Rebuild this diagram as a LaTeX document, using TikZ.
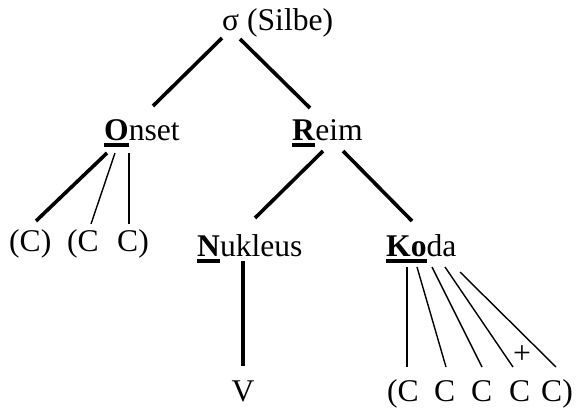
\documentclass[tikz,border=0pt]{standalone}
\usepackage{fontspec}
\setmainfont{Liberation Serif}
\usetikzlibrary{positioning}

% bold initial letter with a heavy underline
\newcommand{\ulbf}[1]{\setbox0=\hbox{\textbf{#1}}\rlap{\rule[-7pt]{\wd0}{4pt}}\box0}

\tikzset{
  lbl/.style={inner sep=0pt, anchor=base west, font=\fontsize{31.6pt}{36pt}\selectfont},
  thickline/.style={line width=3.6pt},
  thinline/.style={line width=1.4pt}
}

\begin{document}
\begin{tikzpicture}[x=1pt, y=-1pt]
\useasboundingbox (0,0) rectangle (581,410);

% Syllable
\node[lbl] (sigma) at (222,30) {σ (Silbe)};

% Onset and Rhyme
\node[lbl] (onset) at (104,140) {\ulbf{O}nset};
\node[lbl] (reim) at (292,140) {\ulbf{R}eim};

% Nucleus and Coda
\node[lbl] (nukleus) at (197,256) {\ulbf{N}ukleus};
\node[lbl] (koda) at (386,256) {\ulbf{Ko}da};

% Onset consonants
\node[lbl] (c1) at (9,251) {(C)};
\node[lbl] (c2) at (67,251) {(C};
\node[lbl] (c3) at (117,251) {C)};

% Vowel
\node[lbl, anchor=base] (v) at (243,401) {V};

% Coda consonants
\node[lbl] (k1) at (387,401) {(C};
\node[lbl] (k2) at (434,401) {C};
\node[lbl] (k3) at (471,401) {C};
\node[lbl] (k4) at (509,401) {C};
\node[lbl] (k5) at (541,401) {C)};
\node[lbl, anchor=center] (plus) at (522,355) {+};

% Lines
\draw[thickline] ([yshift=-8pt]sigma.base west) -- ([xshift=49pt,yshift=34pt]onset.base west);
\draw[thickline] ([xshift=18pt,yshift=-9pt]sigma.base west) -- ([xshift=18pt,yshift=32pt]reim.base west);

\draw[thickline] ([xshift=3pt,yshift=-13pt]onset.base west) -- ([xshift=27pt,yshift=30pt]c1.base west);
\draw[thinline] ([xshift=11pt,yshift=-13pt]onset.base west) -- ([xshift=24pt,yshift=27pt]c2.base west);
\draw[thinline] ([xshift=25pt,yshift=-13pt]onset.base west) -- ([xshift=12pt,yshift=27pt]c3.base west);

\draw[thickline] ([xshift=31pt,yshift=-11pt]reim.base west) -- ([xshift=58pt,yshift=38pt]nukleus.base west);
\draw[thickline] ([xshift=51pt,yshift=-11pt]reim.base west) -- ([xshift=26pt,yshift=35pt]koda.base west);

\draw[thickline] ([xshift=46pt,yshift=-5pt]nukleus.base west) -- ([yshift=35pt]v.base);

\foreach \s/\u/\t/\e in {21/11/k1/20, 31/11/k2/12, 46/11/k3/11, 59/11/k4/4, 74/16/k5/15}
  \draw[thinline] ([xshift=\s pt,yshift=-\u pt]koda.base west) -- ([xshift=\e pt,yshift=34pt]\t.base west);

\end{tikzpicture}
\end{document}
